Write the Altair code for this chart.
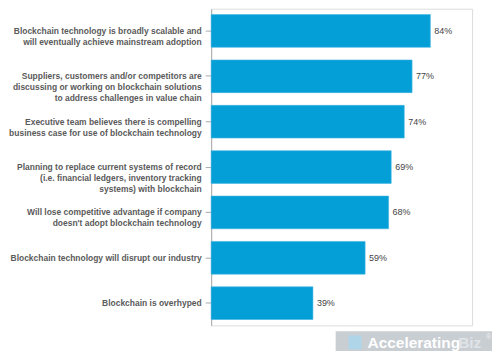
import altair as alt
import pandas as pd

categories = [
    "Blockchain technology is broadly scalable and|will eventually achieve mainstream adoption",
    "Suppliers, customers and/or competitors are|discussing or working on blockchain solutions|to address challenges in value chain",
    "Executive team believes there is compelling|business case for use of blockchain technology",
    "Planning to replace current systems of record|(i.e. financial ledgers, inventory tracking|systems) with blockchain",
    "Will lose competitive advantage if company|doesn't adopt blockchain technology",
    "Blockchain technology will disrupt our industry",
    "Blockchain is overhyped",
]
values = [84, 77, 74, 69, 68, 59, 39]
labels = ["84%", "77%", "74%", "69%", "68%", "59%", "39%"]

df = pd.DataFrame({"cat": categories, "val": values, "lab": labels})

y = alt.Y("cat:N", sort=categories, title=None,
          scale=alt.Scale(paddingInner=0.28, paddingOuter=0.13),
          axis=alt.Axis(labelExpr="split(datum.label, '|')",
                        labelFont="Liberation Sans", labelFontWeight="bold",
                        labelFontSize=8.5, labelColor="#5a5a5a",
                        labelLineHeight=11, labelPadding=4,
                        tickSize=6, tickColor="#aaaaaa", domainColor="#aaaaaa",
                        labelLimit=0))
x = alt.X("val:Q", title=None, scale=alt.Scale(domain=[0, 100]), axis=None)

bars = alt.Chart(df).mark_bar(color="#059fd7", stroke="#3fb3e3", strokeWidth=0.6).encode(x=x, y=y)
text = alt.Chart(df).mark_text(align="left", baseline="middle", dx=4,
                               font="Liberation Sans", fontSize=9, color="#444444").encode(
    x=x, y=y, text="lab:N")

wm_df = pd.DataFrame({"a": ["Accelerating"], "b": ["Biz"], "r": ["®"]})
wm_box = alt.Chart(wm_df).mark_rect(color="#c9ced3").encode(
    x=alt.value(125), x2=alt.value(284), y=alt.value(324), y2=alt.value(347))
wm_icon = alt.Chart(wm_df).mark_rect(color="#a9d8ee", opacity=0.8).encode(
    x=alt.value(138), x2=alt.value(151), y=alt.value(328), y2=alt.value(342))
wm_a = alt.Chart(wm_df).mark_text(align="left", baseline="middle", font="Liberation Sans",
                                  fontWeight="bold", fontSize=15.5, color="white").encode(
    x=alt.value(157), y=alt.value(336), text="a:N")
wm_b = alt.Chart(wm_df).mark_text(align="left", baseline="middle", font="Liberation Sans",
                                  fontWeight="bold", fontSize=15.5, color="#e0e4e8").encode(
    x=alt.value(248), y=alt.value(336), text="b:N")
wm_r = alt.Chart(wm_df).mark_text(align="left", baseline="middle", font="Liberation Sans",
                                  fontSize=7, color="#f0f0f0").encode(
    x=alt.value(276), y=alt.value(330), text="r:N")

chart = alt.layer(bars, text, wm_box, wm_icon, wm_a, wm_b, wm_r).properties(
    width=262, height=318,
    autosize=alt.AutoSizeParams(type="none"),
    padding={"left": 204, "top": 0, "right": 20, "bottom": 25},
).configure_view(stroke=None).configure(background="white")

chart.save("out.html", embed_options={"renderer": "svg", "actions": False})
